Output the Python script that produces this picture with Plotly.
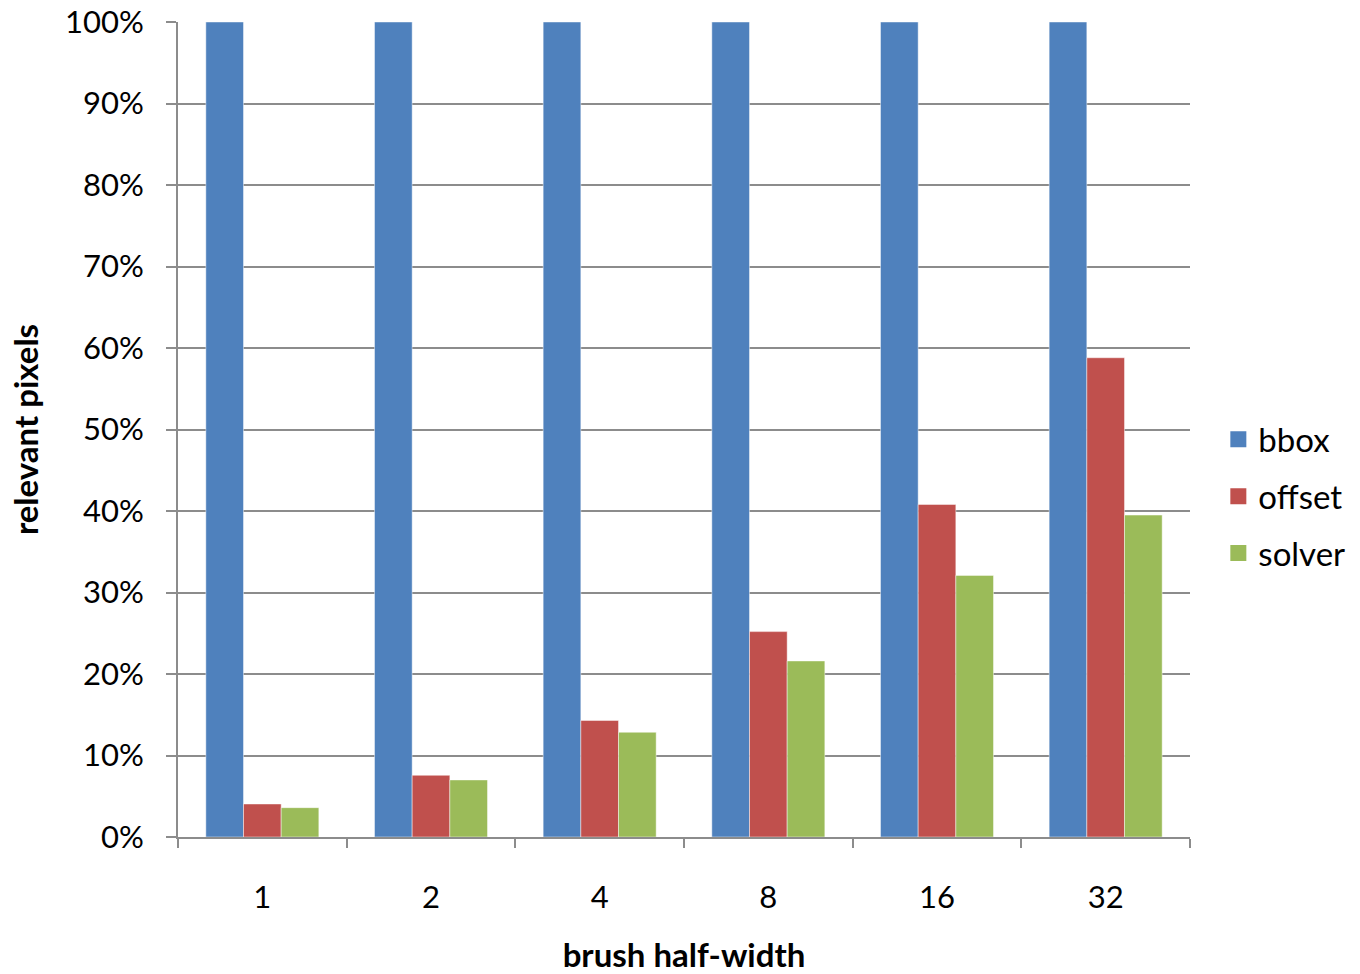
import plotly.graph_objects as go

# brush half-width categories and fraction of relevant pixels per method
half_widths = ["1", "2", "4", "8", "16", "32"]
bbox = [1.0, 1.0, 1.0, 1.0, 1.0, 1.0]
offset = [0.0405, 0.0757, 0.143, 0.252, 0.408, 0.588]
solver = [0.036, 0.070, 0.1285, 0.216, 0.321, 0.395]

series = [
    ("bbox", bbox, "#4F81BD"),
    ("offset", offset, "#C0504D"),
    ("solver", solver, "#9BBB59"),
]

FONT = "Lato"

fig = go.Figure()
for name, vals, color in series:
    fig.add_trace(go.Bar(
        x=half_widths, y=vals, name=name, showlegend=False,
        marker=dict(color=color, line=dict(color="rgba(255,255,255,0.45)", width=1)),
    ))

# legend entries with larger square swatches
for name, vals, color in series:
    fig.add_trace(go.Scatter(
        x=[None], y=[None], mode="markers", name=name, legendgroup=name,
        marker=dict(symbol="square", size=20, color=color),
    ))

fig.update_layout(
    width=1360, height=974,
    margin=dict(l=178, r=170, t=22, b=137, autoexpand=False),
    paper_bgcolor="white", plot_bgcolor="white",
    barmode="group", bargap=0.33, bargroupgap=0,
    font=dict(family=FONT, size=31, color="black"),
    legend=dict(
        x=1.028, y=0.418, xanchor="left", yanchor="middle",
        font=dict(size=33), itemwidth=30, tracegroupgap=11,
        itemsizing="trace",
    ),
    xaxis=dict(
        type="category", showline=True, linecolor="#8c8c8c", linewidth=2,
        ticks="outside", tickson="boundaries", ticklen=9, tickcolor="#8c8c8c", tickwidth=2,
        ticklabelstandoff=32, showgrid=False,
        title=dict(text="<b>brush half-width</b>", font=dict(size=33), standoff=32),
    ),
    yaxis=dict(
        range=[0, 1], dtick=0.1, tickformat=".0%",
        showline=True, linecolor="#8c8c8c", linewidth=2,
        ticks="outside", ticklen=10, tickcolor="#8c8c8c", tickwidth=2,
        showgrid=True, gridcolor="#8c8c8c", gridwidth=1.5,
        ticklabelstandoff=16, zeroline=False,
        title=dict(text="<b>relevant pixels</b>", font=dict(size=33), standoff=16),
    ),
)

fig.write_html("out.html")
